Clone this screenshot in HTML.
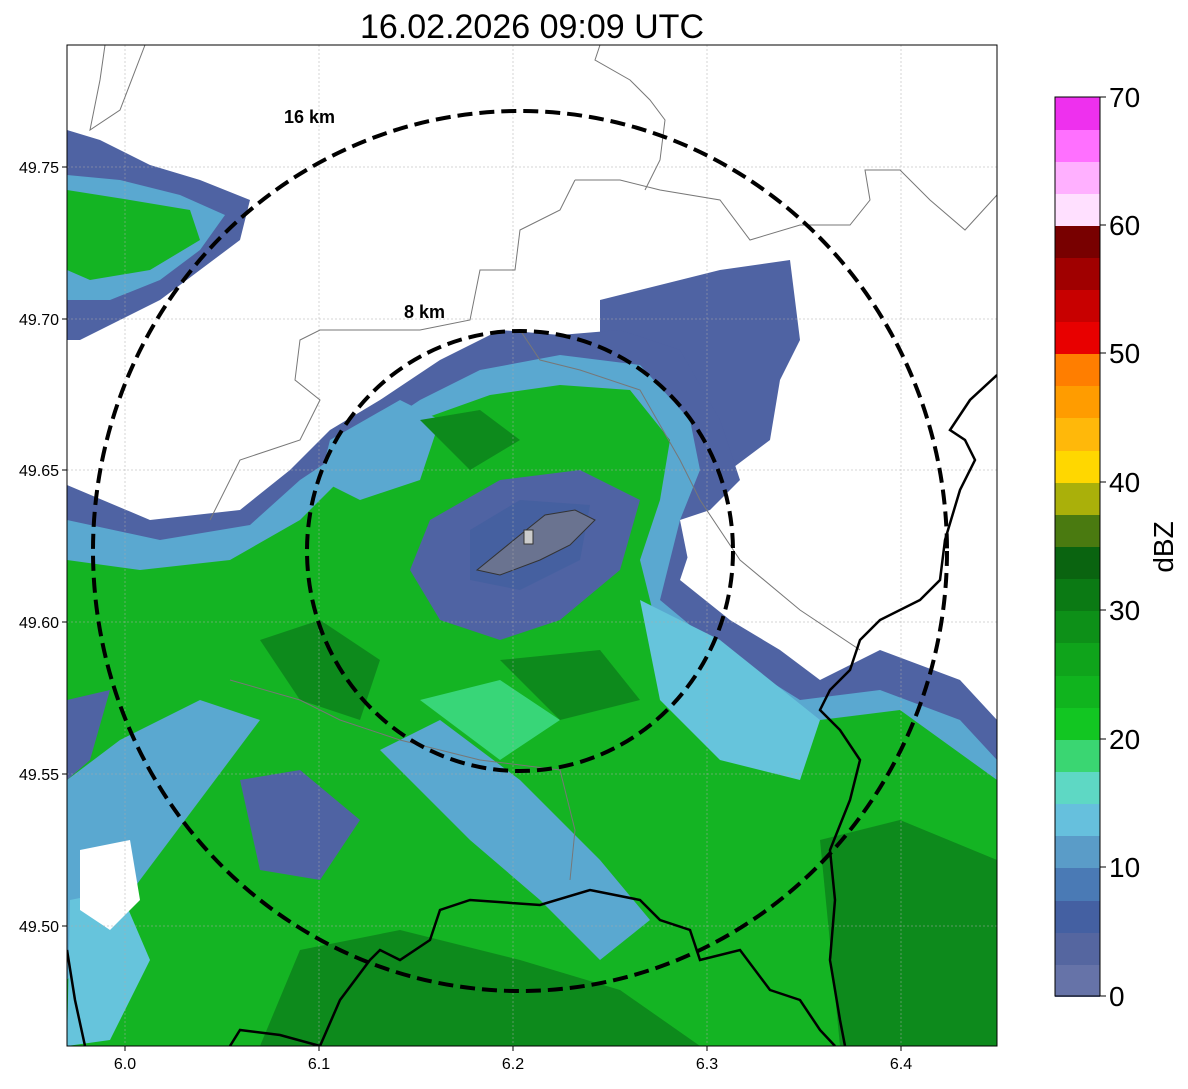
<!DOCTYPE html>
<html><head><meta charset="utf-8"><style>
body{margin:0;background:#fff;width:1188px;height:1084px;overflow:hidden;font-family:"Liberation Sans",sans-serif}
</style></head><body>
<svg width="1188" height="1084" xmlns="http://www.w3.org/2000/svg" font-family="Liberation Sans, sans-serif">
<text x="532" y="38" font-size="34" text-anchor="middle">16.02.2026 09:09 UTC</text>
<defs><clipPath id="c"><rect x="67" y="45" width="930" height="1001"/></clipPath></defs>
<g clip-path="url(#c)">
<rect x="67" y="45" width="930" height="1001" fill="#fff"/>
<path d="M67,130 L100,140 L150,165 L200,180 L250,200 L240,240 L200,270 L160,300 L120,320 L80,340 L67,340Z" fill="#4f63a3"/>
<path d="M67,175 L120,180 L180,195 L225,215 L200,250 L160,280 L110,300 L67,300Z" fill="#5aa8d0"/>
<path d="M67,190 L130,200 L190,210 L200,240 L150,270 L90,280 L67,270Z" fill="#14b423"/>
<path d="M600,300 L640,290 L720,270 L790,260 L800,340 L780,380 L770,440 L730,470 L700,500 L680,480 L690,420 L650,380 L600,340Z" fill="#4f63a3"/>
<path d="M67,485 L150,520 L240,510 L290,470 L330,430 L380,400 L440,360 L500,330 L560,335 L620,330 L680,350 L720,420 L740,480 L700,520 L680,580 L730,620 L780,650 L820,680 L880,650 L960,680 L997,720 L997,1046 L67,1046Z" fill="#4f63a3"/>
<path d="M67,520 L160,540 L250,525 L300,480 L360,440 L420,400 L480,370 L560,355 L640,365 L690,420 L700,470 L680,520 L660,600 L720,650 L800,700 L880,690 L960,720 L997,760 L997,1046 L67,1046Z" fill="#5aa8d0"/>
<path d="M67,560 L140,570 L230,560 L300,520 L360,460 L420,420 L490,395 L560,385 L630,390 L670,440 L660,500 L640,560 L660,640 L740,700 L820,720 L900,710 L997,780 L997,1046 L67,1046Z" fill="#14b423"/>
<path d="M640,600 L720,640 L820,720 L800,780 L720,760 L660,700Z" fill="#66c4dc"/>
<path d="M67,780 L120,740 L200,700 L260,720 L200,800 L140,880 L90,950 L67,980Z" fill="#5aa8d0"/>
<path d="M380,750 L440,720 L520,780 L600,860 L650,920 L600,960 L540,900 L470,840Z" fill="#5aa8d0"/>
<path d="M240,780 L300,770 L360,820 L320,880 L260,870Z" fill="#4f63a3"/>
<path d="M67,700 L110,690 L90,760 L67,780Z" fill="#4f63a3"/>
<path d="M70,900 L120,890 L150,960 L110,1040 L67,1046Z" fill="#66c4dc"/>
<path d="M420,700 L500,680 L560,720 L500,760Z" fill="#38d678"/>
<path d="M430,520 L500,480 L580,470 L640,500 L620,570 L560,620 L500,640 L440,620 L410,570Z" fill="#4f63a3"/>
<path d="M470,530 L520,500 L590,505 L580,560 L520,590 L470,580Z" fill="#4560a0"/>
<path d="M477,570 L520,535 L545,515 L575,510 L595,520 L570,545 L540,560 L500,575Z" fill="#6a7390" stroke="#333" stroke-width="1"/>
<rect x="524" y="530" width="9" height="14" fill="#ccc" stroke="#333"/>
<path d="M330,440 L400,400 L440,420 L420,480 L360,500 L320,480Z" fill="#5aa8d0"/>
<path d="M260,640 L320,620 L380,660 L360,720 L300,700Z" fill="#0d8a1c"/>
<path d="M300,950 L400,930 L520,960 L620,990 L700,1046 L260,1046Z" fill="#0d8a1c"/>
<path d="M820,840 L900,820 L997,860 L997,1046 L840,1046Z" fill="#0d8a1c"/>
<path d="M420,420 L480,410 L520,440 L470,470Z" fill="#0d8a1c"/>
<path d="M500,660 L600,650 L640,700 L560,720Z" fill="#0d8a1c"/>
<path d="M80,850 L130,840 L140,900 L110,930 L80,910Z" fill="#fff"/>
<path d="M680,520 L710,510 L720,560 L690,570Z" fill="#fff"/>
<g stroke="#aaa" stroke-width="0.5" stroke-dasharray="2,2">
<line x1="125" y1="45" x2="125" y2="1046"/><line x1="319" y1="45" x2="319" y2="1046"/><line x1="513" y1="45" x2="513" y2="1046"/><line x1="707" y1="45" x2="707" y2="1046"/><line x1="901" y1="45" x2="901" y2="1046"/>
<line x1="67" y1="167" x2="997" y2="167"/><line x1="67" y1="319" x2="997" y2="319"/><line x1="67" y1="470" x2="997" y2="470"/><line x1="67" y1="622" x2="997" y2="622"/><line x1="67" y1="774" x2="997" y2="774"/><line x1="67" y1="926" x2="997" y2="926"/>
</g>
<g fill="none" stroke="#777" stroke-width="1">
<path d="M105,45 L100,80 L90,130 L120,110 L145,45"/>
<path d="M600,45 L595,60 L630,80 L650,100 L665,120 L660,160 L645,190"/>
<path d="M575,180 L620,180 L660,190 L720,200 L750,240 L800,225 L850,225 L870,200 L865,170 L900,170 L930,200 L965,230 L997,195"/>
<path d="M575,180 L560,210 L520,230 L515,270 L480,270 L470,320 L420,330 L320,330 L300,340 L295,380 L320,400 L300,440 L270,450 L240,460 L210,520"/>
<path d="M520,330 L540,360 L580,370 L640,390 L680,460 L700,500 L740,560 L800,610 L860,650"/>
<path d="M230,680 L300,700 L340,720 L400,740 L480,760 L560,770 L575,830 L570,880"/>
</g>
<g fill="none" stroke="#000" stroke-width="2.5">
<path d="M997,375 L970,400 L950,430 L965,440 L975,460 L960,490 L945,540 L940,580 L920,600 L880,620 L860,640 L850,670 L830,690 L820,710 L840,730 L860,760 L850,800 L830,850 L835,900 L830,960 L840,1020 L845,1046"/>
<path d="M67,950 L75,1000 L85,1046"/>
<path d="M230,1046 L240,1030 L280,1035 L320,1046"/>
<path d="M320,1046 L340,1000 L370,960 L380,950 L400,960 L430,940 L440,910 L470,900 L540,905 L590,890 L640,900 L660,920 L690,930 L700,960 L740,950 L770,990 L800,1000 L820,1030 L835,1046"/>
</g>
<g fill="none" stroke="#000" stroke-width="4" stroke-dasharray="15,7">
<ellipse cx="520" cy="551" rx="427" ry="440"/>
<ellipse cx="520" cy="551" rx="213" ry="220"/>
</g>
<text x="284" y="123" font-size="18" font-weight="bold">16 km</text>
<text x="404" y="318" font-size="18" font-weight="bold">8 km</text>
</g>
<rect x="67" y="45" width="930" height="1001" fill="none" stroke="#000" stroke-width="1"/>
<g stroke="#000"><line x1="125" y1="1046" x2="125" y2="1051"/><line x1="319" y1="1046" x2="319" y2="1051"/><line x1="513" y1="1046" x2="513" y2="1051"/><line x1="707" y1="1046" x2="707" y2="1051"/><line x1="901" y1="1046" x2="901" y2="1051"/>
<line x1="62" y1="167" x2="67" y2="167"/><line x1="62" y1="319" x2="67" y2="319"/><line x1="62" y1="470" x2="67" y2="470"/><line x1="62" y1="622" x2="67" y2="622"/><line x1="62" y1="774" x2="67" y2="774"/><line x1="62" y1="926" x2="67" y2="926"/></g>
<g font-size="16" text-anchor="middle">
<text x="125" y="1069">6.0</text><text x="319" y="1069">6.1</text><text x="513" y="1069">6.2</text><text x="707" y="1069">6.3</text><text x="901" y="1069">6.4</text>
</g>
<g font-size="16" text-anchor="end">
<text x="59" y="173">49.75</text><text x="59" y="325">49.70</text><text x="59" y="476">49.65</text><text x="59" y="628">49.60</text><text x="59" y="780">49.55</text><text x="59" y="932">49.50</text>
</g>
<g>
<rect x="1055" y="964" width="45" height="33" fill="#6673a8"/>
<rect x="1055" y="932" width="45" height="33" fill="#5566a0"/>
<rect x="1055" y="900" width="45" height="33" fill="#4460a2"/>
<rect x="1055" y="868" width="45" height="33" fill="#4a7ab5"/>
<rect x="1055" y="835" width="45" height="33" fill="#5a9cc8"/>
<rect x="1055" y="803" width="45" height="33" fill="#66c0dd"/>
<rect x="1055" y="771" width="45" height="33" fill="#5ed8c4"/>
<rect x="1055" y="739" width="45" height="33" fill="#3ad672"/>
<rect x="1055" y="707" width="45" height="33" fill="#12c622"/>
<rect x="1055" y="675" width="45" height="33" fill="#10b41e"/>
<rect x="1055" y="643" width="45" height="33" fill="#0fa41b"/>
<rect x="1055" y="610" width="45" height="33" fill="#0d9018"/>
<rect x="1055" y="578" width="45" height="33" fill="#0b7a14"/>
<rect x="1055" y="546" width="45" height="33" fill="#0a6410"/>
<rect x="1055" y="514" width="45" height="33" fill="#4a7a10"/>
<rect x="1055" y="482" width="45" height="33" fill="#aab00a"/>
<rect x="1055" y="450" width="45" height="33" fill="#ffd700"/>
<rect x="1055" y="418" width="45" height="33" fill="#ffb80a"/>
<rect x="1055" y="385" width="45" height="33" fill="#ff9c00"/>
<rect x="1055" y="353" width="45" height="33" fill="#ff7e00"/>
<rect x="1055" y="321" width="45" height="33" fill="#e80000"/>
<rect x="1055" y="289" width="45" height="33" fill="#c80000"/>
<rect x="1055" y="257" width="45" height="33" fill="#a00000"/>
<rect x="1055" y="225" width="45" height="33" fill="#780000"/>
<rect x="1055" y="193" width="45" height="33" fill="#ffe0ff"/>
<rect x="1055" y="161" width="45" height="33" fill="#ffb0ff"/>
<rect x="1055" y="129" width="45" height="33" fill="#ff70ff"/>
<rect x="1055" y="97" width="45" height="33" fill="#ee30ee"/>
<rect x="1055" y="97" width="45" height="899" fill="none" stroke="#000" stroke-width="1"/>
</g>
<g font-size="28">
<text x="1109" y="1006">0</text><text x="1109" y="877">10</text><text x="1109" y="749">20</text><text x="1109" y="620">30</text><text x="1109" y="492">40</text><text x="1109" y="363">50</text><text x="1109" y="235">60</text><text x="1109" y="107">70</text>
</g>
<g stroke="#000"><line x1="1100" y1="996" x2="1106" y2="996"/><line x1="1100" y1="867" x2="1106" y2="867"/><line x1="1100" y1="739" x2="1106" y2="739"/><line x1="1100" y1="610" x2="1106" y2="610"/><line x1="1100" y1="482" x2="1106" y2="482"/><line x1="1100" y1="353" x2="1106" y2="353"/><line x1="1100" y1="225" x2="1106" y2="225"/><line x1="1100" y1="97" x2="1106" y2="97"/></g>
<text transform="translate(1173,547) rotate(-90)" font-size="28" text-anchor="middle">dBZ</text>
</svg>
</body></html>
